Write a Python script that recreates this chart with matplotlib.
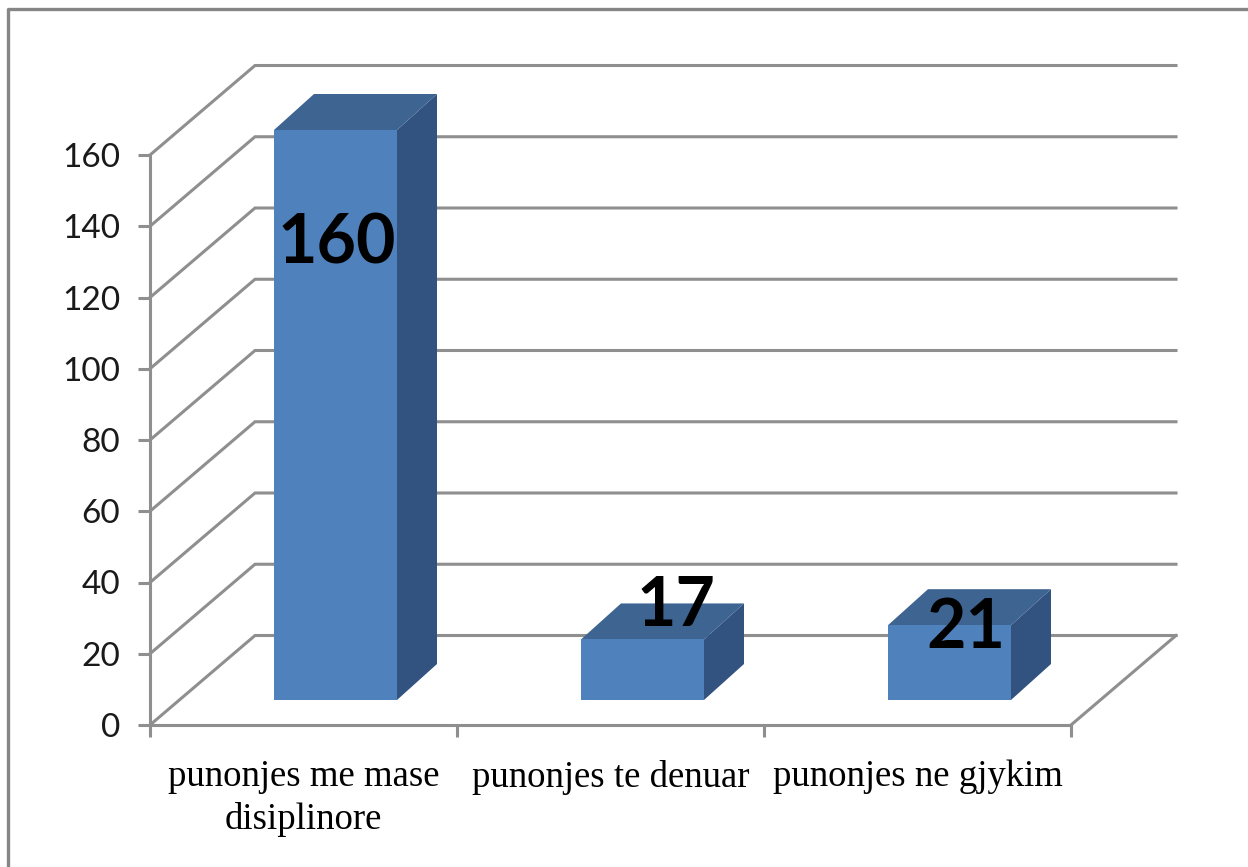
import matplotlib

matplotlib.use("Agg")
import matplotlib.pyplot as plt
from matplotlib.lines import Line2D
from matplotlib.patches import Polygon

categories = ["punonjes me mase\ndisiplinore", "punonjes te denuar", "punonjes ne gjykim"]
values = [160, 17, 21]
y_ticks = [0, 20, 40, 60, 80, 100, 120, 140, 160]

W, H = 1248, 867
GRID = "#8f8f8f"
FRONT = "#4f81bd"
TOP = "#3e6491"
SIDE = "#325280"

# plot front plane in pixels
left, right, bottom, top = 150, 1071, 725, 155

fig = plt.figure(figsize=(W / 100, H / 100), dpi=100)
ax = fig.add_axes([left / W, 1 - bottom / H, (right - left) / W, (bottom - top) / H])
ax.set_xlim(0, 3)
ax.set_ylim(0, 160)
ax.patch.set_visible(False)

px_x = 3 / (right - left)
px_y = 160 / (bottom - top)

# depth of the back wall and of the bars
wall_dx, wall_dy = 105 * px_x, 89.5 * px_y
bar_dx, bar_dy = 40 * px_x, 36 * px_y
base_dx, base_dy = 32 * px_x, 25 * px_y
bar_w = 123 * px_x

# Walls and gridlines
for v in y_ticks:
    ax.plot([0, wall_dx, 3 + wall_dx], [v, v + wall_dy, v + wall_dy],
            color=GRID, lw=2.2, clip_on=False, zorder=1, solid_joinstyle="miter")
ax.plot([3, 3 + wall_dx], [0, wall_dy], color=GRID, lw=2.2, clip_on=False, zorder=1)

# 3D bars, they stand on the floor a bit behind the front edge
for i, val in enumerate(values):
    x0 = i + 0.5 + base_dx - bar_w / 2
    x1 = x0 + bar_w
    y0 = base_dy
    y1 = val + base_dy
    ax.add_patch(Polygon([(x1, y0), (x1 + bar_dx, y0 + bar_dy), (x1 + bar_dx, y1 + bar_dy), (x1, y1)],
                         fc=SIDE, ec="none", clip_on=False, zorder=2))
    ax.add_patch(Polygon([(x0, y1), (x0 + bar_dx, y1 + bar_dy), (x1 + bar_dx, y1 + bar_dy), (x1, y1)],
                         fc=TOP, ec="none", clip_on=False, zorder=2))
    ax.add_patch(Polygon([(x0, y0), (x1, y0), (x1, y1), (x0, y1)],
                         fc=FRONT, ec="none", clip_on=False, zorder=3))

# Value labels, hand placed like in the original
label_x = [337, 676, 966]
label_y = [244, 607, 629]
for val, lx, ly in zip(values, label_x, label_y):
    ax.text((lx - left) * px_x, (bottom - ly) * px_y, str(val), ha="center", va="center",
            family="Lato", fontweight="bold", fontsize=49, color="black", zorder=5)

# Axes
for side in ["top", "right"]:
    ax.spines[side].set_visible(False)
for side in ["left", "bottom"]:
    ax.spines[side].set_color(GRID)
    ax.spines[side].set_linewidth(2.2)
    ax.spines[side].set_zorder(1.5)
ax.set_yticks(y_ticks)
ax.set_xticks([0, 1, 2, 3])
ax.set_xticklabels([])
ax.set_xticks([0.5, 1.5, 2.5], labels=categories, minor=True)
ax.tick_params(axis="both", which="major", color=GRID, width=2.2, length=8.5)
ax.tick_params(axis="y", labelsize=24, labelcolor="#1a1a1a", pad=13)
ax.tick_params(axis="x", which="minor", length=0, pad=25, labelsize=26.5)
for lab in ax.get_yticklabels():
    lab.set_family("Lato")
for lab in ax.get_xticklabels(minor=True):
    lab.set_family("Liberation Serif")
    lab.set_linespacing(1.3)

# Outer chart border, right and bottom edges are cut off
fig.add_artist(Line2D([8 / W, 8 / W, 1], [0, 1 - 9 / H, 1 - 9 / H], color="#868686", lw=2.4))

fig.savefig("out.png", dpi=100)
